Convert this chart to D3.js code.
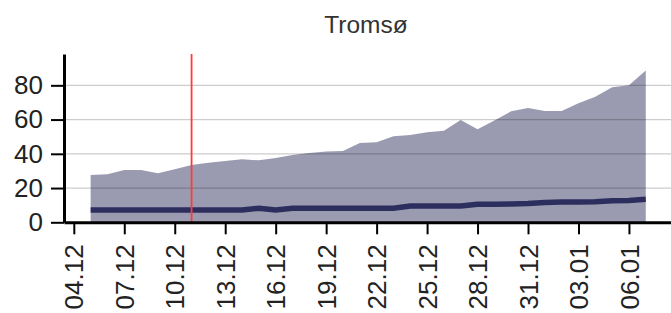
<!DOCTYPE html>
<html>
<head>
<meta charset="utf-8">
<script src="https://cdn.jsdelivr.net/npm/d3@7"></script>
<style>
  body { margin: 0; background: #fff; }
  svg { display: block; font-family: "Liberation Sans", Arial, sans-serif; }
</style>
</head>
<body>
<script>
// data (daily values, 05.12 -> 07.01)
const title = "Tromsø";
const startDay = new Date(2023, 11, 5);
const upperValues = [27.6, 28, 30.5, 30.5, 28.6, 31, 33.5, 34.8, 35.8, 36.8,
  36.2, 37.5, 39.3, 40.5, 41.4, 41.7, 46.3, 46.8, 50.2, 51,
  52.6, 53.5, 59.8, 54.3, 59.5, 64.8, 66.8, 65, 65, 69.5,
  73.4, 78.9, 80, 88.6];
const lineValues = [7.2, 7.2, 7.2, 7.2, 7.2, 7.2, 7.2, 7.2, 7.2, 7.2,
  8.2, 7.2, 8.2, 8.2, 8.2, 8.2, 8.2, 8.2, 8.2, 9.5,
  9.5, 9.5, 9.5, 10.5, 10.6, 10.7, 11, 11.6, 11.8, 11.8,
  12, 12.6, 12.8, 13.4];
const tickLabels = ["04.12", "07.12", "10.12", "13.12", "16.12", "19.12",
  "22.12", "25.12", "28.12", "31.12", "03.01", "06.01"];
const yTicks = [0, 20, 40, 60, 80];
const markerDate = new Date(2023, 11, 11);

const width = 671;
const height = 313;

const parseTick = (s) => {
  const [d, m] = s.split(".").map(Number);
  return new Date(m === 12 ? 2023 : 2024, m - 1, d);
};

const data = upperValues.map((v, i) => ({
  date: d3.timeDay.offset(startDay, i),
  upper: v,
  line: lineValues[i]
}));

const svg = d3.select("body").append("svg")
  .attr("width", width)
  .attr("height", height);

// scales
const x = d3.scaleTime()
  .domain([new Date(2023, 11, 3, 10), new Date(2024, 0, 8, 12)])
  .range([64, 671]);

const y = d3.scaleLinear()
  .domain([0, 98.3])
  .range([222.3, 54]);

// area
svg.append("path")
  .datum(data)
  .attr("fill", "#9a9bb0")
  .attr("d", d3.area()
    .x((d) => x(d.date))
    .y0(y(0))
    .y1((d) => y(d.upper)));

// gridlines (on top of area)
svg.append("g")
  .selectAll("line")
  .data(yTicks.slice(1))
  .join("line")
  .attr("x1", 64)
  .attr("x2", width)
  .attr("y1", (d) => y(d))
  .attr("y2", (d) => y(d))
  .attr("stroke", "rgba(0,0,0,0.2)")
  .attr("stroke-width", 1.2);

// dark line
svg.append("path")
  .datum(data)
  .attr("fill", "none")
  .attr("stroke", "#2c2f5e")
  .attr("stroke-width", 5.5)
  .attr("d", d3.line()
    .x((d) => x(d.date))
    .y((d) => y(d.line)));

// red marker
svg.append("line")
  .attr("x1", x(markerDate))
  .attr("x2", x(markerDate))
  .attr("y1", y.range()[1])
  .attr("y2", y(0))
  .attr("stroke", "#ff3a3a")
  .attr("stroke-width", 1.8);

// axes
const xAxis = svg.append("g")
  .attr("transform", `translate(0,${y(0)})`)
  .call(d3.axisBottom(x)
    .tickValues(tickLabels.map(parseTick))
    .tickFormat(d3.timeFormat("%d.%m"))
    .tickSize(12)
    .tickSizeOuter(0));

xAxis.select(".domain").attr("stroke-width", 3);
xAxis.selectAll(".tick line").attr("stroke-width", 2);
xAxis.selectAll(".tick text")
  .attr("transform", "rotate(-90)")
  .attr("text-anchor", "end")
  .attr("x", -22)
  .attr("y", 0)
  .attr("dy", "0.35em")
  .attr("font-size", "26px")
  .attr("fill", "#222");

const yAxis = svg.append("g")
  .attr("transform", "translate(64,0)")
  .call(d3.axisLeft(y)
    .tickValues(yTicks)
    .tickSize(13)
    .tickSizeOuter(0)
    .tickPadding(8));

yAxis.select(".domain").attr("stroke-width", 3);
yAxis.selectAll(".tick line").attr("stroke-width", 2);
yAxis.selectAll(".tick text")
  .attr("font-size", "26px")
  .attr("fill", "#222");

// title
svg.append("text")
  .attr("x", 366)
  .attr("y", 33)
  .attr("text-anchor", "middle")
  .attr("font-size", "24.5px")
  .attr("fill", "#333")
  .text(title);
</script>
</body>
</html>
